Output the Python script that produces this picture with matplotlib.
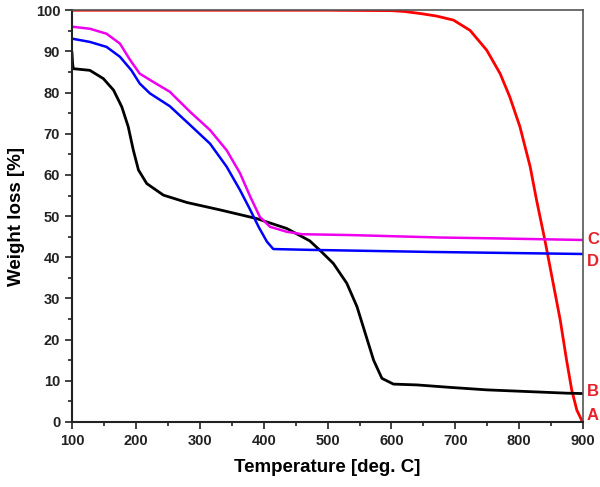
import matplotlib
matplotlib.use("Agg")
import matplotlib.pyplot as plt
import numpy as np

plt.rcParams['font.family'] = ['Liberation Sans', 'DejaVu Sans']

# A - red
temp_a = [100, 300, 500, 600, 620, 645, 670, 697, 723, 749, 770, 785, 801, 817, 827, 840, 853, 864, 874, 882, 890, 898]
wt_a = [100, 100, 100, 99.9, 99.7, 99.2, 98.6, 97.6, 95.1, 90.3, 84.6, 79, 71.7, 62, 53.9, 44.2, 33.7, 24.8, 15, 7.8, 2.9, 0.3]

# B - black
temp_b = [100, 101, 102, 128, 149, 165, 178, 188, 196, 204, 217, 243, 280, 332, 389, 436, 472, 488, 509, 530,
          546, 559, 572, 585, 603, 640, 692, 749, 874, 900]
wt_b = [89.6, 87, 85.8, 85.4, 83.4, 80.6, 76.5, 71.7, 66, 61.2, 57.9, 55.1, 53.3, 51.5, 49.4, 47, 44, 41.7, 38.5, 33.7,
        28, 21.5, 15, 10.6, 9.2, 9, 8.4, 7.8, 7, 6.9]

# C - magenta
temp_c = [100, 128, 154, 175, 191, 206, 227, 253, 285, 316, 342, 363, 379, 394, 410, 436, 460, 535, 676, 759, 900]
wt_c = [96, 95.5, 94.3, 91.9, 87.9, 84.6, 82.6, 80.2, 75.3, 70.9, 66, 60.4, 54.7, 49.8, 47.4, 46.2, 45.6, 45.4, 44.8, 44.6, 44.2]

# D - blue
temp_d = [100, 128, 154, 175, 193, 206, 222, 253, 285, 316, 342, 363, 379, 392, 405, 415, 472, 660, 900]
wt_d = [93.1, 92.3, 91.1, 88.7, 85.4, 82.2, 79.8, 76.7, 72.1, 67.6, 62, 56.3, 51.5, 47.4, 43.8, 42, 41.8, 41.3, 40.8]

labels = ['C', 'D', 'B', 'A']
label_y = [44.4, 38.9, 7.4, 1.6]

fig = plt.figure(figsize=(6, 4.87), dpi=100)
ax = fig.add_axes([0.12, 0.1335, 0.852, 0.8455])

ax.plot(temp_a, wt_a, color='#ff0000', lw=2)
ax.plot(temp_b, wt_b, color='black', lw=2)
ax.plot(temp_c, wt_c, color='#ee00ee', lw=1.8)
ax.plot(temp_d, wt_d, color='#0000ff', lw=1.8)

for lab, y in zip(labels, label_y):
    ax.text(906, y, lab, color='#e8202a', fontsize=12, fontweight='bold',
            va='center', ha='left', clip_on=False)

ax.set_xlim(100, 900)
ax.set_ylim(0, 100)
ax.set_xticks(np.arange(100, 901, 100))
ax.set_xticks(np.arange(150, 900, 100), minor=True)
ax.set_yticks(np.arange(0, 101, 10))
ax.set_yticks(np.arange(5, 100, 10), minor=True)
ax.tick_params(which='both', direction='out', top=False, right=False, colors='#222222')
ax.tick_params(which='major', length=5, width=1.2, labelsize=10.5)
ax.tick_params(which='minor', length=3, width=1.2)
for t in ax.get_xticklabels() + ax.get_yticklabels():
    t.set_fontweight('bold')
for s in ['left', 'bottom']:
    ax.spines[s].set_linewidth(1.5)
    ax.spines[s].set_color('#222222')
for s in ['top', 'right']:
    ax.spines[s].set_linewidth(1.2)
    ax.spines[s].set_color('#555555')

ax.set_xlabel('Temperature [deg. C]', fontsize=13.5, fontweight='bold', labelpad=8)
ax.set_ylabel('Weight loss [%]', fontsize=13.5, fontweight='bold', labelpad=8)

fig.savefig('out.png', dpi=100)
